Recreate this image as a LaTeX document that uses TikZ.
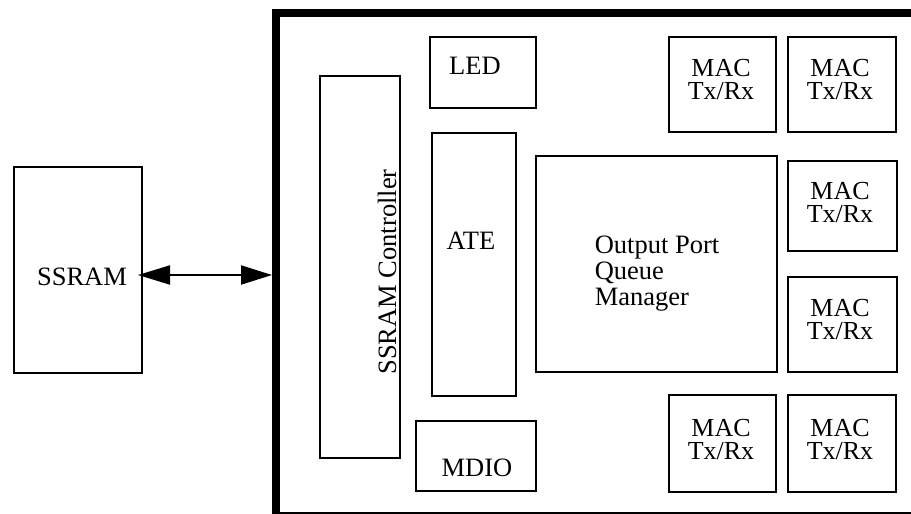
\documentclass[tikz,border=0pt]{standalone}
\usepackage{fontspec}
\setmainfont{Liberation Serif}
\usetikzlibrary{arrows.meta}
\begin{document}
\begin{tikzpicture}[x=1pt,y=-1pt,
  box/.style={draw, line width=2pt, inner sep=0pt, rectangle},
  txt/.style={inner sep=0pt, font=\fontsize{26.5}{26}\selectfont},
  mactxt/.style={inner sep=0pt, align=center, font=\fontsize{26}{23}\selectfont},
  biarrow/.style={line width=2pt, {Triangle[length=32pt,width=19pt]}-{Triangle[length=31pt,width=19pt]}}]
\clip (0,0) rectangle (911,514);
\fill[white] (0,0) rectangle (911,514);
% outer chip border
\draw[line width=8pt] (276,13) rectangle (917,516);
\coordinate (port) at (272,275);
% boxes
\node[box, minimum width=128pt, minimum height=206pt] (ssram) at (78,270) {};
\node[box, minimum width=106pt, minimum height=71pt] (led) at (483,72.5) {};
\node[box, minimum width=80pt, minimum height=382pt] (ctrl) at (360,267) {};
\node[box, minimum width=84pt, minimum height=263pt] (ate) at (474,264.5) {};
\node[box, minimum width=120pt, minimum height=70pt] (mdio) at (476,456) {};
\node[box, minimum width=241pt, minimum height=216pt] (opqm) at (656.5,264) {};
\node[box, minimum width=107pt, minimum height=95pt] (mac1) at (722.5,84.5) {};
\node[box, minimum width=108pt, minimum height=95pt] (mac2) at (842,84.5) {};
\node[box, minimum width=109pt, minimum height=90pt] (mac3) at (842.5,206) {};
\node[box, minimum width=109pt, minimum height=95pt] (mac4) at (842.5,324.5) {};
\node[box, minimum width=107pt, minimum height=97pt] (mac5) at (722.5,443.5) {};
\node[box, minimum width=108pt, minimum height=97pt] (mac6) at (842,443.5) {};
% texts
\node[txt] (ssramt) at (82,277) {SSRAM};
\node[txt] (ledt) at (475,66) {LED};
\node[txt, rotate=90] (ctrlt) at (387,272) {SSRAM Controller};
\node[txt] (atet) at (471,241) {ATE};
\node[txt] (mdiot) at (477,468) {MDIO};
\node[inner sep=0pt, align=left, font=\fontsize{26.5}{26}\selectfont] (opqmt) at (657,274) {Output Port\\Queue\\Manager};
\node[mactxt] (mac1t) at (721,80) {MAC\\Tx/Rx};
\node[mactxt] (mac2t) at (840,80) {MAC\\Tx/Rx};
\node[mactxt] (mac3t) at (840,203) {MAC\\Tx/Rx};
\node[mactxt] (mac4t) at (840,320) {MAC\\Tx/Rx};
\node[mactxt] (mac5t) at (721,440) {MAC\\Tx/Rx};
\node[mactxt] (mac6t) at (840,440) {MAC\\Tx/Rx};
% connector
\draw[biarrow, shorten <=-5pt] (ssram.east |- port) -- (port);
\end{tikzpicture}
\end{document}
